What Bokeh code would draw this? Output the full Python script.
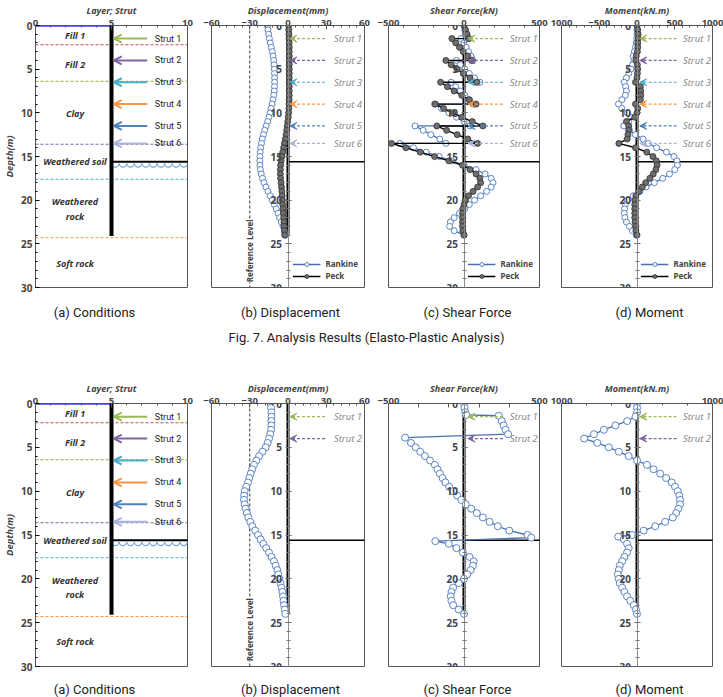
import numpy as np
from bokeh.plotting import figure
from bokeh.layouts import row, column
from bokeh.models import FixedTicker, Arrow, VeeHead, OpenHead, Label, Range1d
from bokeh.core.properties import value
from bokeh.embed import file_html
from bokeh.resources import INLINE

FONT = "Noto Sans"
CAP_FONT = "Roboto"

# ---------------- data ----------------
DEPTH_TICKS = [0, 5, 10, 15, 20, 25, 30]
GWL_DEPTH = 0.0
WALL_BOTTOM = 24.1
EXCAV_DEPTH = 15.6
REF_LEVEL = -30

LAYER_NAMES = ["Fill 1", "Fill 2", "Clay", "Weathered soil", "Weathered\nrock", "Soft rock"]
LAYER_LABEL_DEPTH = [1.15, 4.45, 10.1, 15.6, 21.0, 27.2]
LAYER_BOTTOMS = [2.2, 6.4, 13.6, 17.6, 24.3]
LAYER_LINE_COLORS = ["#c0504d", "#b5b860", "#8064a2", "#4bacc6", "#f79646"]

STRUT_NAMES = ["Strut 1", "Strut 2", "Strut 3", "Strut 4", "Strut 5", "Strut 6"]
STRUT_DEPTHS = [1.5, 4.0, 6.5, 9.0, 11.5, 13.5]
STRUT_COLORS = ["#9bbb59", "#8064a2", "#4bacc6", "#f79646", "#4f81bd", "#a9b3dc"]

DEPTH = list(np.arange(0, 24.01, 0.5))

# Fig.7 (elasto-plastic)
DISP_RANKINE_1 = [-16.2, -15.7, -15.2, -14.6, -13.9, -13.1, -12.3, -11.7, -11.2, -10.9,
                  -10.7, -10.6, -10.5, -10.5, -10.6, -10.8, -11.2, -11.8, -12.5, -13.3,
                  -14.1, -15.0, -15.9, -17.1, -18.3, -19.3, -20.1, -20.8, -21.4, -21.8,
                  -22.0, -22.1, -22.0, -21.6, -21.0, -20.0, -18.8, -17.3, -15.7, -14.0,
                  -12.3, -10.7, -9.2, -7.8, -6.5, -5.2, -3.9, -2.8, -1.8]
DISP_PECK_1 = [0.5, 0.6, 0.7, 0.8, 0.9, 1.0, 1.0, 1.0, 1.0, 1.0,
               1.0, 1.0, 1.0, 1.0, 1.0, 1.0, 1.0, 0.9, 0.8, 0.7,
               0.5, 0.2, -0.2, -0.6, -1.0, -1.5, -2.1, -2.8, -3.4, -4.1,
               -4.8, -5.4, -5.8, -6.0, -6.0, -5.8, -5.4, -5.1, -4.8, -4.6,
               -4.4, -4.1, -3.8, -3.6, -3.4, -3.2, -3.0, -2.8, -2.6]

SF_R1_DEPTH = [0, 0.5, 1.0, 1.5, 1.5, 2.0, 2.5, 3.0, 3.5, 4.0, 4.0, 4.5, 5.0, 5.5, 6.0, 6.5, 6.5,
               7.0, 7.5, 8.0, 8.5, 9.0, 9.0, 9.5, 10.0, 10.5, 11.0, 11.5, 11.5, 12.0, 12.5, 13.0,
               13.5, 13.5, 14.0, 14.5, 15.0, 15.5, 16.0, 16.5, 17.0, 17.5, 18.0, 18.5, 19.0, 19.5,
               20.0, 20.5, 21.0, 21.5, 22.0, 22.5, 23.0, 23.5, 24.0]
SF_RANKINE_1 = [0, 5, 15, 25, -20, 0, 15, 30, 45, 60, -50, -25, 5, 35, 70, 105, -85,
                -55, -25, 5, 35, 60, -195, -150, -100, -50, 0, 40, -325, -270, -220, -160,
                -120, -425, -335, -250, -165, -80, 0, 80, 140, 180, 192, 180, 150, 110,
                70, 35, 5, -30, -65, -90, -95, -65, 0]
SF_P1_DEPTH = SF_R1_DEPTH
SF_PECK_1 = [0, 10, 20, 35, -80, -55, -30, -5, 25, 50, -120, -85, -45, -5, 40, 85, -155,
             -110, -65, -15, 35, 80, -190, -135, -75, -15, 55, 125, -180, -115, -45, 25,
             90, -480, -385, -290, -195, -100, -10, 40, 80, 105, 110, 90, 60, 30,
             10, 0, -8, -10, -10, -10, -10, -8, 0]

BM_RANKINE_1 = [0, 0, 0, -5, -10, -20, -35, -50, -40, -60,
                -80, -110, -140, -170, -150, -140, -155, -200, -245, -200,
                -130, -80, -110, -175, -100, -20, 80, 150, 260, 390,
                490, 530, 535, 500, 430, 340, 230, 120, 40, -50,
                -130, -155, -165, -170, -160, -140, -100, -60, -10]
BM_PECK_1 = [0, 10, 15, 15, 10, 10, 5, -10, -15, 5,
             10, 5, 0, -20, 45, 50, 50, 45, -20, 10,
             0, -30, -140, -110, -110, -120, -130, -240, -20, 130,
             210, 255, 265, 250, 215, 170, 115, 70, 25, -15,
             -30, -30, -30, -30, -30, -25, -20, -15, 0]

# second analysis (Rankine only)
DISP_RANKINE_2 = [-13.6, -13.3, -13.0, -13.0, -13.0, -13.1, -13.3, -13.9, -14.9, -16.0,
                  -17.5, -20.0, -22.7, -24.8, -26.7, -28.1, -29.3, -30.4, -31.4, -32.8,
                  -34.0, -34.4, -34.5, -34.0, -33.2, -32.3, -31.1, -29.6, -28.0, -25.8,
                  -23.5, -21.4, -19.3, -17.1, -14.9, -12.9, -11.0, -9.6, -8.4, -7.6,
                  -6.8, -5.9, -5.0, -4.4, -3.9, -3.5, -3.1, -2.6, -2.1]
SF_R2_DEPTH = [0, 0.5, 1.0, 1.3, 1.4, 2.0, 2.5, 3.0, 3.5, 3.9, 4.5, 5.0, 5.5, 6.0, 6.5, 7.0,
               7.5, 8.0, 8.5, 9.0, 9.5, 10.0, 10.5, 11.0, 11.5, 12.0, 12.5, 13.0, 13.5, 14.0,
               14.5, 15.0, 15.3, 15.7, 16.0, 16.5, 17.0, 17.5, 18.0, 18.5, 19.0, 19.5, 20.0,
               20.5, 21.0, 21.5, 22.0, 22.5, 23.0, 23.5, 24.0]
SF_RANKINE_2 = [0, 3, 8, 15, 230, 250, 262, 275, 292, -390, -351, -320, -290, -259, -225, -193,
                -176, -160, -142, -123, -98, -72, -45, -18, 12, 48, 85, 125, 170, 224,
                300, 421, 445, -190, -101, -50, -7, 37, 64, 59, 44, 22, 0,
                -35, -72, -83, -88, -83, -72, -35, 0]
BM_R2_DEPTH = [0, 0.5, 1.0, 1.5, 2.0, 2.5, 3.0, 3.5, 4.0, 4.5, 5.0, 5.5, 6.0, 6.5, 7.0, 7.5,
               8.0, 8.5, 9.0, 9.5, 10.0, 10.5, 11.0, 11.5, 12.0, 12.5, 13.0, 13.5, 14.0, 14.5,
               15.0, 15.2, 15.5, 16.0, 16.5, 17.0, 17.5, 18.0, 18.5, 19.0, 19.5, 20.0, 20.5,
               21.0, 21.5, 22.0, 22.5, 23.0, 23.5, 24.0]
BM_RANKINE_2 = [0, 0, 0, -20, -130, -285, -439, -570, -700, -526, -373, -241, -110, 0, 132, 219,
                307, 386, 460, 504, 539, 561, 570, 570, 548, 518, 474, 373, 241, 88,
                -66, -250, -175, -132, -110, -132, -167, -197, -228, -241, -254, -241, -228,
                -197, -167, -132, -88, -44, -15, 0]

CAPTIONS = ["(a) Conditions", "(b) Displacement", "(c) Shear Force", "(d) Moment"]
FIG_CAPTION = "Fig. 7. Analysis Results (Elasto-Plastic Analysis)"

# ---------------- styling / layout ----------------
FW = [152, 153, 151, 151]
BL = [32, 12, 12, 11]
BR = [12, 12, 11, 14]
BOTTOM_BORDER = 8
CAP_CENTER_X = [94, 290, 467, 649]
FIG_CAP_X = 366

R_LINE = "#4a6fae"
R_EDGE = "#5b84c4"
P_FILL = "#6e6e6e"
P_EDGE = "#2e2e2e"


def base_fig(i, xr, fh, xticks, xminor, xlabel, overrides=None):
    p = figure(x_range=Range1d(*xr), y_range=Range1d(30, 0), frame_width=FW[i], frame_height=fh,
               x_axis_location="above", y_axis_location="left",
               min_border_left=BL[i], min_border_right=BR[i], min_border_top=25,
               min_border_bottom=BOTTOM_BORDER, output_backend="svg", toolbar_location=None)
    p.grid.visible = False
    p.outline_line_color = "#555555"
    p.outline_line_width = 1
    ax = p.xaxis[0]
    ax.ticker = FixedTicker(ticks=xticks, minor_ticks=xminor)
    ax.axis_label = xlabel
    ax.axis_label_text_font = FONT
    ax.axis_label_text_font_style = "bold italic"
    ax.axis_label_text_font_size = "9px"
    ax.axis_label_standoff = 0
    ax.major_label_text_font = FONT
    ax.major_label_text_font_style = "bold"
    ax.major_label_text_font_size = "9.5px"
    ax.major_label_standoff = 0
    ax.major_tick_in = 4
    ax.major_tick_out = 0
    ax.minor_tick_in = 2
    ax.minor_tick_out = 0
    ax.axis_line_color = "#555555"
    ax.major_tick_line_color = "#555555"
    ax.minor_tick_line_color = "#555555"
    if overrides:
        ax.major_label_overrides = overrides
    ya = p.yaxis[0]
    ya.ticker = FixedTicker(ticks=DEPTH_TICKS, minor_ticks=list(range(31)))
    ya.major_label_text_font = FONT
    ya.major_label_text_font_style = "bold"
    ya.major_label_text_font_size = "10px"
    return p


def conditions_panel(fh):
    p = base_fig(0, (0, 10), fh, [0, 5, 10], list(range(11)), "Layer; Strut")
    ya = p.yaxis[0]
    ya.axis_label = "Depth(m)"
    ya.axis_label_text_font = FONT
    ya.axis_label_text_font_style = "bold italic"
    ya.axis_label_text_font_size = "9.5px"
    ya.axis_label_standoff = 2
    ya.major_label_standoff = 3
    ya.major_tick_in = 4
    ya.major_tick_out = 0
    ya.minor_tick_in = 2
    ya.minor_tick_out = 0
    ya.axis_line_color = "#555555"
    # layer boundaries
    for d, c in zip(LAYER_BOTTOMS, LAYER_LINE_COLORS):
        p.ray(x=[0], y=[d], length=0, angle=0, line_color=c, line_width=1.1, line_dash="3 2")
    # GWL
    p.segment(x0=[0], y0=[GWL_DEPTH], x1=[5], y1=[GWL_DEPTH], line_color="#3344dd", line_width=2.5)
    p.add_layout(Label(x=0.25, y=GWL_DEPTH, text="GWL", text_font=FONT, text_font_size="9px",
                       text_font_style="bold", text_baseline="bottom", y_offset=0))
    # layer names
    p.text(x=[2.6] * len(LAYER_NAMES), y=LAYER_LABEL_DEPTH, text=LAYER_NAMES,
           text_font=value(FONT), text_font_size="9px", text_font_style="bold italic",
           text_align="center", text_baseline="middle", text_color="#333333",
           text_line_height=1.1)
    # excavation + wave
    p.ray(x=[5], y=[EXCAV_DEPTH], length=0, angle=0, line_color="black", line_width=1.8)
    p.arc(x=list(np.arange(5.25, 10, 0.5)), y=[EXCAV_DEPTH + 0.2] * 10, radius=3.6,
          radius_units="screen", start_angle=np.pi, end_angle=2 * np.pi, line_color="#6fa8dc",
          line_width=1.1)
    # wall
    p.segment(x0=[5], y0=[0], x1=[5], y1=[WALL_BOTTOM], line_color="black", line_width=4)
    # struts
    for name, d, c in zip(STRUT_NAMES, STRUT_DEPTHS, STRUT_COLORS):
        p.add_layout(Arrow(end=OpenHead(size=8, line_color=c, line_width=2), x_start=7.35, y_start=d,
                           x_end=5.15, y_end=d, line_color=c, line_width=2))
    p.text(x=[7.85] * 6, y=STRUT_DEPTHS, text=STRUT_NAMES, text_font=value("Roboto"),
           text_font_size="9px", text_align="left", text_baseline="middle", text_color="#222222")
    return p


def result_panel(i, xr, xticks, xminor, xlabel, fh, nstrut, strut_x, overrides=None):
    p = base_fig(i, xr, fh, xticks, xminor, xlabel, overrides)
    ya = p.yaxis[0]
    ya.fixed_location = 0
    ya.axis_line_color = "#8c8c8c"
    ya.major_tick_line_color = "#555555"
    ya.minor_tick_line_color = "#777777"
    ya.major_tick_in = 3
    ya.major_tick_out = 3
    ya.minor_tick_in = 2
    ya.minor_tick_out = 2
    ya.major_label_standoff = 3
    # excavation line and wall
    p.ray(x=[0], y=[EXCAV_DEPTH], length=0, angle=0, line_color="black", line_width=1.6)
    p.segment(x0=[0], y0=[0], x1=[0], y1=[WALL_BOTTOM], line_color="black", line_width=3)
    tail, head, lab = strut_x
    for k in range(nstrut):
        c = STRUT_COLORS[k]
        p.add_layout(Arrow(end=VeeHead(size=7, fill_color=c, line_color=c, line_width=1),
                           x_start=tail, y_start=STRUT_DEPTHS[k], x_end=head, y_end=STRUT_DEPTHS[k],
                           line_color=c, line_width=1.2, line_dash="3 2"))
    p.text(x=[lab] * nstrut, y=STRUT_DEPTHS[:nstrut], text=STRUT_NAMES[:nstrut],
           text_font=value(FONT), text_font_size="9.5px", text_font_style="italic",
           text_align="left", text_baseline="middle", text_color="#8a8a8a")
    return p


def rankine(p, x, y, size, legend=True):
    kw = dict(legend_label="Rankine") if legend else {}
    p.line(x, y, line_color=R_LINE, line_width=1.3, **kw)
    p.scatter(x, y, marker="circle", size=size, fill_color="white", line_color=R_EDGE,
              line_width=1, **kw)


def peck(p, x, y, size):
    p.line(x, y, line_color="black", line_width=1.4, legend_label="Peck")
    p.scatter(x, y, marker="circle", size=size, fill_color=P_FILL, line_color=P_EDGE,
              line_width=0.8, legend_label="Peck")


def style_legend(p):
    lg = p.legend[0]
    lg.location = "bottom_right"
    lg.border_line_color = None
    lg.background_fill_alpha = 0
    lg.label_text_font = FONT
    lg.label_text_font_size = "8px"
    lg.label_text_font_style = "bold"
    lg.glyph_width = 28
    lg.glyph_height = 10
    lg.label_height = 10
    lg.spacing = 1
    lg.padding = 2
    lg.margin = 6


def caption_strip(height, cap_y, fig_cap_y=None):
    c = figure(width=723, height=height, x_range=Range1d(0, 723), y_range=Range1d(height, 0),
               output_backend="svg", toolbar_location=None, min_border=0)
    c.axis.visible = False
    c.grid.visible = False
    c.outline_line_color = None
    for x, t in zip(CAP_CENTER_X, CAPTIONS):
        c.add_layout(Label(x=x, y=cap_y, text=t, text_align="center", text_baseline="middle",
                           text_font=CAP_FONT, text_font_size="13px", text_color="#222222"))
    if fig_cap_y is not None:
        c.add_layout(Label(x=FIG_CAP_X, y=fig_cap_y, text=FIG_CAPTION, text_align="center",
                           text_baseline="middle", text_font=CAP_FONT, text_font_size="13px",
                           text_color="#222222"))
    return c


DISP_X = (29, 1.5, 36)
SF_X = (258, 26, 303)
BM_X = (525, 36, 608)

# ---- top row ----
FH1 = 262
a1 = conditions_panel(FH1)

b1 = result_panel(1, (-60, 60), [-60, -30, 0, 30, 60], list(range(-60, 61, 6)), "Displacement(mm)",
                  FH1, 6, DISP_X)
b1.line([REF_LEVEL, REF_LEVEL], [0, 30], line_color="#333333", line_width=1, line_dash="3 2")
b1.add_layout(Label(x=REF_LEVEL, y=25.8, text="Reference Level", angle=np.pi / 2,
                    text_align="center", text_baseline="middle", text_font=FONT,
                    text_font_size="8px", text_font_style="bold", background_fill_color="white"))
rankine(b1, DISP_RANKINE_1, DEPTH, 6)
peck(b1, DISP_PECK_1, DEPTH, 6)
style_legend(b1)

c1 = result_panel(2, (-500, 500), [-500, 0, 500], list(range(-500, 501, 100)), "Shear Force(kN)",
                  FH1, 6, SF_X)
rankine(c1, SF_RANKINE_1, SF_R1_DEPTH, 6)
peck(c1, SF_PECK_1, SF_P1_DEPTH, 6)
style_legend(c1)

d1 = result_panel(3, (-1000, 1000), [-1000, -500, 0, 500, 1000], list(range(-1000, 1001, 100)),
                  "Moment(kN.m)", FH1, 6, BM_X, overrides={-1000: "1000"})
rankine(d1, BM_RANKINE_1, DEPTH, 6)
peck(d1, BM_PECK_1, DEPTH, 6)
style_legend(d1)

# top row: 25 + 262 + 8 = 295 px tall -> strip from 295 to 378
cap1 = caption_strip(83, 17, 42)

# ---- bottom row ----
FH2 = 263
a2 = conditions_panel(FH2)

b2 = result_panel(1, (-60, 60), [-60, -30, 0, 30, 60], list(range(-60, 61, 6)), "Displacement(mm)",
                  FH2, 2, DISP_X)
b2.line([REF_LEVEL, REF_LEVEL], [0, 30], line_color="#333333", line_width=1, line_dash="3 2")
b2.add_layout(Label(x=REF_LEVEL, y=25.8, text="Reference Level", angle=np.pi / 2,
                    text_align="center", text_baseline="middle", text_font=FONT,
                    text_font_size="8px", text_font_style="bold", background_fill_color="white"))
rankine(b2, DISP_RANKINE_2, DEPTH, 7, legend=False)

c2 = result_panel(2, (-500, 500), [-500, -300, -100, 100, 300, 500], [], "Shear Force(kN)",
                  FH2, 2, SF_X, overrides={-300: "", -100: "", 100: "", 300: ""})
rankine(c2, SF_RANKINE_2, SF_R2_DEPTH, 7, legend=False)

d2 = result_panel(3, (-1000, 1000), [-1000, 1000], [-667, -333, 0, 333, 667], "Moment(kN.m)",
                  FH2, 2, BM_X, overrides={-1000: "1000"})
rankine(d2, BM_RANKINE_2, BM_R2_DEPTH, 7, legend=False)

# bottom row: 25 + 263 + 8 = 296 px tall (378..674) -> strip 674..697
cap2 = caption_strip(23, 15)

layout = column(row(a1, b1, c1, d1), cap1, row(a2, b2, c2, d2), cap2)
open("out.html", "w").write(file_html(layout, INLINE))
